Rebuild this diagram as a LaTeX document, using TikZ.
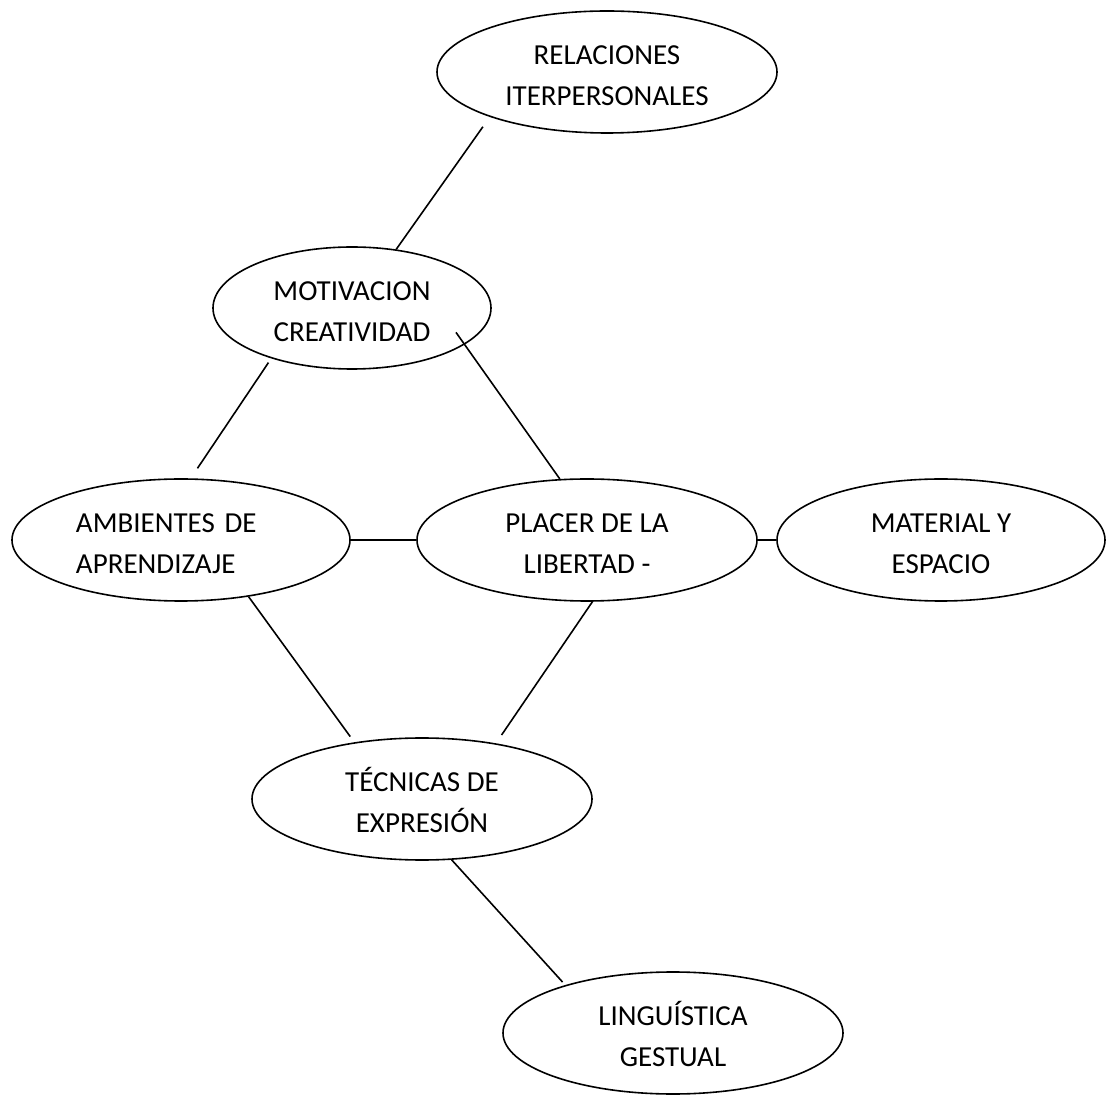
\documentclass[tikz,border=0pt]{standalone}
\usepackage{fontspec}
\setmainfont{Carlito}
\usetikzlibrary{shapes.geometric, positioning}
\newcommand{\capstrut}{\rule{0pt}{27pt}}

\begin{document}
\begin{tikzpicture}[on grid,
    idea/.style={ellipse, draw, line width=1.6pt, inner sep=0pt,
        minimum width=340pt, minimum height=122pt, align=center,
        font=\fontsize{29pt}{41pt}\selectfont},
    link/.style={line width=1.6pt}]
    \useasboundingbox (-181pt,-557pt) rectangle (925pt,540pt);

    \node[idea, minimum width=338pt, text width=210pt, align=left] (amb) at (0,0) {\capstrut AMBIENTES DE\\APRENDIZAJE};
    \node[idea] (pla) [right=406pt of amb] {\capstrut PLACER DE LA\\LIBERTAD -};
    \node[idea, minimum width=328pt] (mat) [right=354pt of pla] {\capstrut MATERIAL Y\\ESPACIO};
    \node[idea, minimum width=278pt] (mot) [above right=232pt and 171pt of amb] {\capstrut MOTIVACION\\CREATIVIDAD};
    \node[idea] (rel) [above right=236pt and 255pt of mot] {\capstrut RELACIONES\\ITERPERSONALES};
    \node[idea] (tec) [below right=259pt and 241pt of amb] {\capstrut TÉCNICAS DE\\EXPRESIÓN};
    \node[idea] (lin) [below right=234pt and 251pt of tec] {\capstrut LINGUÍSTICA\\GESTUAL};

    \path[link]
        (rel.201) edge[shorten <=12pt] (mot.53)
        (mot.212) edge[shorten <=5pt, shorten >=12pt] (amb.81)
        (mot.342) edge[shorten <=-15pt] (pla.114)
        (amb.east) edge (pla.west)
        (pla.east) edge (mat.west)
        (amb.320) edge[shorten >=7pt] (tec.140)
        (pla.275) edge[shorten >=10pt] (tec.37)
        (tec.296) edge[shorten >=4pt] (lin.156);
\end{tikzpicture}
\end{document}
